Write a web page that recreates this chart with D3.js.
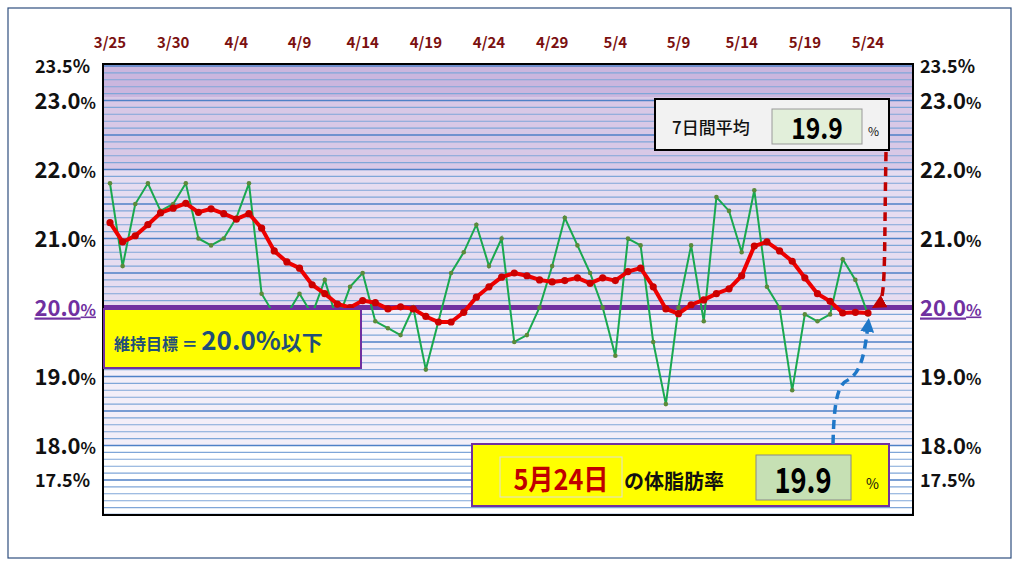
<!DOCTYPE html>
<html><head><meta charset="utf-8">
<script src="https://cdn.jsdelivr.net/npm/d3@7"></script>
<style>body{margin:0;background:#fff}svg{display:block;font-family:"Noto Sans CJK JP","Noto Sans",sans-serif}</style>
</head><body><svg id="c" width="1024" height="568"></svg>
<script>
const dates = ["3/25","3/26","3/27","3/28","3/29","3/30","3/31","4/1","4/2","4/3","4/4","4/5","4/6","4/7","4/8","4/9","4/10","4/11","4/12","4/13","4/14","4/15","4/16","4/17","4/18","4/19","4/20","4/21","4/22","4/23","4/24","4/25","4/26","4/27","4/28","4/29","4/30","5/1","5/2","5/3","5/4","5/5","5/6","5/7","5/8","5/9","5/10","5/11","5/12","5/13","5/14","5/15","5/16","5/17","5/18","5/19","5/20","5/21","5/22","5/23","5/24"];
const daily = [21.8,20.6,21.5,21.8,21.4,21.5,21.8,21.0,20.9,21.0,21.3,21.8,20.2,19.9,19.9,20.2,19.9,20.4,19.8,20.3,20.5,19.8,19.7,19.6,20.0,19.1,19.8,20.5,20.8,21.2,20.6,21.0,19.5,19.6,20.0,20.6,21.3,20.9,20.5,20.0,19.3,21.0,20.9,19.5,18.6,20.0,20.9,19.8,21.6,21.4,20.8,21.7,20.3,20.0,18.8,19.9,19.8,19.9,20.7,20.4,19.9];
const avg7 = [21.23,20.95,21.04,21.2,21.37,21.44,21.51,21.38,21.43,21.36,21.28,21.36,21.15,20.82,20.66,20.57,20.33,20.2,20.05,20.0,20.1,20.07,19.98,20.01,19.98,19.87,19.79,19.79,19.93,20.15,20.3,20.44,20.5,20.46,20.4,20.37,20.39,20.43,20.35,20.43,20.39,20.52,20.57,20.3,19.98,19.91,20.04,20.11,20.2,20.27,20.46,20.89,20.95,20.82,20.67,20.43,20.2,20.09,19.92,19.93,19.92];
const xTicks = ["3/25","3/30","4/4","4/9","4/14","4/19","4/24","4/29","5/4","5/9","5/14","5/19","5/24"];
const yTicksBig = [23.0,22.0,21.0,19.0,18.0];
const yTicksSmall = [23.5,17.5];
const target = 20.0;
const latestDate = "5月24日", latestValue = "19.9", avgValue = "19.9";

const svg = d3.select("#c");
const L=103,R=913,T=64,B=515;
const x = d3.scalePoint().domain(dates).range([110,868]);
const y = d3.scaleLinear().domain([17.5,23.5]).range([480,66]);

svg.append("rect").attr("x",8).attr("y",8).attr("width",1003).attr("height",550).attr("fill","#fff").attr("stroke","#2f4f7f").attr("stroke-width",1.2);

const defs = svg.append("defs");
defs.append("clipPath").attr("id","pc").append("rect").attr("x",L).attr("y",T).attr("width",R-L).attr("height",B-T);
const g = svg.append("g").attr("clip-path","url(#pc)");
const bands = [[23.6,23.05,"#cbb6de"],[23.05,22.0,"#d8c8e6"],[22.0,20.0,"#e6dcf0"],[20.0,18.0,"#f3eef8"],[18.0,16.9,"#ffffff"]];
bands.forEach(b=>g.append("rect").attr("x",L).attr("width",R-L).attr("y",y(b[0])).attr("height",y(b[1])-y(b[0])).attr("fill",b[2]));
const grid = d3.range(170,236).map(i=>i/10);
const major = d=>Math.abs(d*2-Math.round(d*2))<1e-6;
g.selectAll("line.gr").data(grid).join("line").attr("x1",L).attr("x2",R)
 .attr("y1",d=>y(d)).attr("y2",d=>y(d)).attr("stroke",d=>major(d)?"#4f81c7":"#7fa6d8").attr("stroke-width",d=>major(d)?1.6:1.1);

g.append("line").attr("x1",L).attr("x2",R).attr("y1",y(target)).attr("y2",y(target)).attr("stroke","#7030a0").attr("stroke-width",5);

const line = d3.line().x((d,i)=>x(dates[i])).y(d=>y(d));
g.append("path").datum(daily).attr("d",line).attr("fill","none").attr("stroke","#1aa84f").attr("stroke-width",2);
g.selectAll("circle.d").data(daily).join("circle").attr("cx",(d,i)=>x(dates[i])).attr("cy",d=>y(d)).attr("r",2.3).attr("fill","#5a8a3a");
g.append("path").datum(avg7).attr("d",line).attr("fill","none").attr("stroke","#ee0000").attr("stroke-width",4);
g.selectAll("circle.a").data(avg7).join("circle").attr("cx",(d,i)=>x(dates[i])).attr("cy",d=>y(d)).attr("r",3.6).attr("fill","#cc0000");

svg.append("rect").attr("x",L).attr("y",T).attr("width",R-L).attr("height",B-T).attr("fill","none").attr("stroke","#000").attr("stroke-width",2);

svg.selectAll("text.xt").data(xTicks).join("text").attr("x",d=>x(d)).attr("y",48).attr("text-anchor","middle")
 .attr("font-size",15).attr("font-weight","bold").attr("fill","#7b1010").text(d=>d);

[[96,"end"],[920,"start"]].forEach(([px,anc])=>{
  yTicksBig.forEach(v=>{
    const t=svg.append("text").attr("x",px).attr("y",y(v)+8).attr("text-anchor",anc).attr("fill","#111").attr("font-weight","bold");
    t.append("tspan").attr("font-size",22).text(v.toFixed(1));
    t.append("tspan").attr("font-size",16).text("%");
  });
  yTicksSmall.forEach(v=>{
    svg.append("text").attr("x",px - (anc==="end"?6:0)).attr("y",y(v)+7).attr("text-anchor",anc).attr("fill","#111").attr("font-weight","bold").attr("font-size",18).text(v.toFixed(1)+"%");
  });
  const t=svg.append("text").attr("x",px).attr("y",y(target)+8).attr("text-anchor",anc).attr("fill","#7030a0").attr("font-weight","bold").attr("text-decoration","underline");
  t.append("tspan").attr("font-size",22).text(target.toFixed(1));
  t.append("tspan").attr("font-size",16).text("%");
});

svg.append("rect").attr("x",104).attr("y",309).attr("width",257).attr("height",59).attr("fill","#ffff00").attr("stroke","#7030a0").attr("stroke-width",2);
const tt=svg.append("text").attr("x",114).attr("y",350).attr("fill","#1f4e79").attr("font-weight","bold");
tt.append("tspan").attr("font-size",16).text("維持目標 ＝ ");
tt.append("tspan").attr("font-size",26).text(target.toFixed(1)+"%");
tt.append("tspan").attr("font-size",21).text("以下");

svg.append("rect").attr("x",655).attr("y",99).attr("width",234).attr("height",51).attr("fill","#f2f2f2").attr("stroke","#000").attr("stroke-width",2);
svg.append("text").attr("x",672).attr("y",134).attr("font-size",17).attr("font-weight","500").attr("fill","#111").text("7日間平均");
svg.append("rect").attr("x",772).attr("y",109).attr("width",90).attr("height",35).attr("fill","#e2efda").attr("stroke","#999");
svg.append("text").attr("x",817).attr("y",139).attr("text-anchor","middle").attr("font-size",29).attr("font-weight","bold").attr("fill","#000").attr("transform","translate(817,0) scale(0.85,1) translate(-817,0)").text(avgValue);
svg.append("text").attr("x",868).attr("y",136).attr("font-size",12).attr("fill","#111").text("%");

svg.append("rect").attr("x",472).attr("y",444).attr("width",417).attr("height",62).attr("fill","#ffff00").attr("stroke","#7030a0").attr("stroke-width",2);
svg.append("rect").attr("x",500).attr("y",457).attr("width",122).attr("height",40).attr("fill","none").attr("stroke","#ddd");
svg.append("text").attr("x",561).attr("y",490).attr("text-anchor","middle").attr("font-size",28).attr("font-weight","bold").attr("fill","#c00000").attr("transform","translate(561,0) scale(0.9,1) translate(-561,0)").text(latestDate);
svg.append("text").attr("x",624).attr("y",489).attr("font-size",20).attr("font-weight","bold").attr("fill","#111").text("の体脂肪率");
svg.append("rect").attr("x",756).attr("y",455).attr("width",95).attr("height",45).attr("fill","#c6e0b4").attr("stroke","#888");
svg.append("text").attr("x",803).attr("y",493).attr("text-anchor","middle").attr("font-size",35).attr("font-weight","bold").attr("fill","#000").attr("transform","translate(803,0) scale(0.78,1) translate(-803,0)").text(latestValue);
svg.append("text").attr("x",866).attr("y",489).attr("font-size",14).attr("fill","#111").text("%");

defs.append("marker").attr("id","ar").attr("viewBox","0 0 10 10").attr("refX",5).attr("refY",5).attr("markerWidth",4).attr("markerHeight",4).attr("orient","auto")
 .append("path").attr("d","M0,0L10,5L0,10z").attr("fill","#c00000");
defs.append("marker").attr("id","ab").attr("viewBox","0 0 10 10").attr("refX",5).attr("refY",5).attr("markerWidth",4).attr("markerHeight",4).attr("orient","auto")
 .append("path").attr("d","M0,0L10,5L0,10z").attr("fill","#1f77c8");
const lx = x(dates[dates.length-1]), ly=y(avg7[avg7.length-1]);
svg.append("path").attr("d",`M886,152 C884,260 886,300 ${lx+10},${y(target)-3}`).attr("fill","none").attr("stroke","#c00000").attr("stroke-width",3.5).attr("stroke-dasharray","9,6").attr("marker-end","url(#ar)");
svg.append("path").attr("d",`M833,444 C834,400 838,384 848,380 C862,372 865,350 ${lx},${ly+12}`).attr("fill","none").attr("stroke","#1f77c8").attr("stroke-width",3.5).attr("stroke-dasharray","9,6").attr("marker-end","url(#ab)");
</script></body></html>
